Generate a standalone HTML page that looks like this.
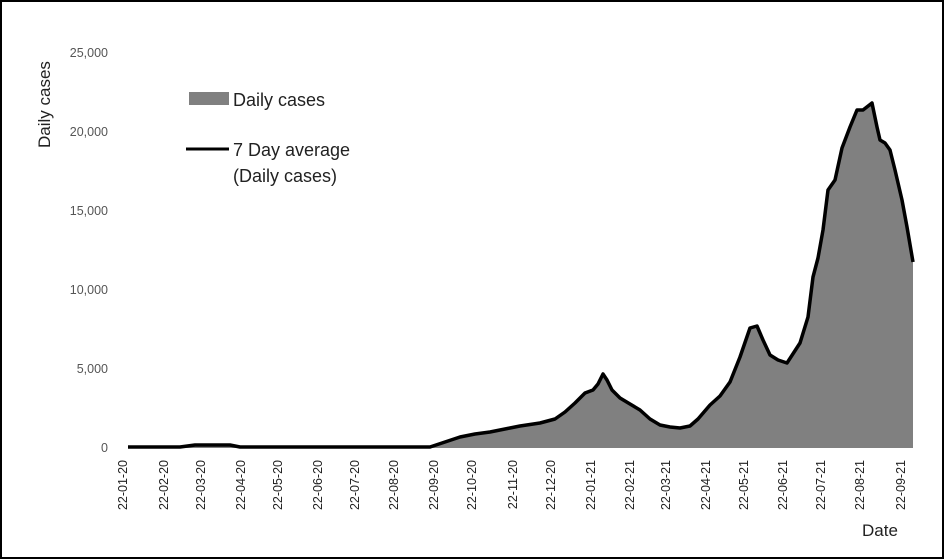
<!DOCTYPE html>
<html><head><style>
html,body{margin:0;padding:0;background:#fff;}
svg{display:block;font-family:"Liberation Sans",sans-serif;}
</style></head><body>
<svg width="945" height="560" viewBox="0 0 945 560">
<rect x="1" y="1" width="942" height="557" fill="#fff" stroke="#000" stroke-width="2"/>
<g fill="#555" font-size="12.5" text-anchor="end">
<text x="108" y="452">0</text>
<text x="108" y="373">5,000</text>
<text x="108" y="294">10,000</text>
<text x="108" y="215">15,000</text>
<text x="108" y="136">20,000</text>
<text x="108" y="57">25,000</text>
</g>
<text transform="translate(50,148) rotate(-90)" font-size="17" fill="#222">Daily cases</text>
<text x="862" y="536" font-size="17" fill="#222">Date</text>
<path d="M128,448 L128,447 L180,447 L195,445 L230,445 L240,447 L430,447 L445,442 L460,437 L475,434 L490,432 L510,428 L520,426 L540,423 L555,419 L565,412 L575,403 L585,393 L593,390 L598,384 L603,374 L607,380 L612,390 L620,398 L630,404 L640,410 L650,419 L660,425 L670,427 L680,428 L690,426 L698,419 L710,405 L720,396 L730,382 L740,357 L750,328 L757,326 L763,340 L770,355 L778,360 L787,363 L800,343 L808,317 L813,277 L818,258 L823,230 L828,190 L835,180 L842,148 L850,127 L857,110 L863,110 L872,103 L877,127 L880,140 L885,143 L890,150 L895,170 L902,200 L907,227 L913,262 L913,448 Z" fill="#808080"/>
<path d="M128,447 L180,447 L195,445 L230,445 L240,447 L430,447 L445,442 L460,437 L475,434 L490,432 L510,428 L520,426 L540,423 L555,419 L565,412 L575,403 L585,393 L593,390 L598,384 L603,374 L607,380 L612,390 L620,398 L630,404 L640,410 L650,419 L660,425 L670,427 L680,428 L690,426 L698,419 L710,405 L720,396 L730,382 L740,357 L750,328 L757,326 L763,340 L770,355 L778,360 L787,363 L800,343 L808,317 L813,277 L818,258 L823,230 L828,190 L835,180 L842,148 L850,127 L857,110 L863,110 L872,103 L877,127 L880,140 L885,143 L890,150 L895,170 L902,200 L907,227 L913,262" fill="none" stroke="#000" stroke-width="3.5" stroke-linejoin="round"/>
<g font-size="12.5" fill="#222" text-anchor="end">
<text transform="translate(127,460) rotate(-90)">22-01-20</text>
<text transform="translate(168,460) rotate(-90)">22-02-20</text>
<text transform="translate(205,460) rotate(-90)">22-03-20</text>
<text transform="translate(245,460) rotate(-90)">22-04-20</text>
<text transform="translate(282,460) rotate(-90)">22-05-20</text>
<text transform="translate(322,460) rotate(-90)">22-06-20</text>
<text transform="translate(359,460) rotate(-90)">22-07-20</text>
<text transform="translate(398,460) rotate(-90)">22-08-20</text>
<text transform="translate(438,460) rotate(-90)">22-09-20</text>
<text transform="translate(476,460) rotate(-90)">22-10-20</text>
<text transform="translate(517,460) rotate(-90)">22-11-20</text>
<text transform="translate(555,460) rotate(-90)">22-12-20</text>
<text transform="translate(595,460) rotate(-90)">22-01-21</text>
<text transform="translate(634,460) rotate(-90)">22-02-21</text>
<text transform="translate(670,460) rotate(-90)">22-03-21</text>
<text transform="translate(710,460) rotate(-90)">22-04-21</text>
<text transform="translate(748,460) rotate(-90)">22-05-21</text>
<text transform="translate(787,460) rotate(-90)">22-06-21</text>
<text transform="translate(825,460) rotate(-90)">22-07-21</text>
<text transform="translate(864,460) rotate(-90)">22-08-21</text>
<text transform="translate(905,460) rotate(-90)">22-09-21</text>
</g>
<rect x="189" y="92" width="40" height="13" fill="#808080"/>
<text x="233" y="106" font-size="18" fill="#222">Daily cases</text>
<line x1="186" y1="149" x2="229" y2="149" stroke="#000" stroke-width="3"/>
<text x="233" y="156" font-size="18" fill="#222">7 Day average</text>
<text x="233" y="182" font-size="18" fill="#222">(Daily cases)</text>
</svg>
</body></html>
